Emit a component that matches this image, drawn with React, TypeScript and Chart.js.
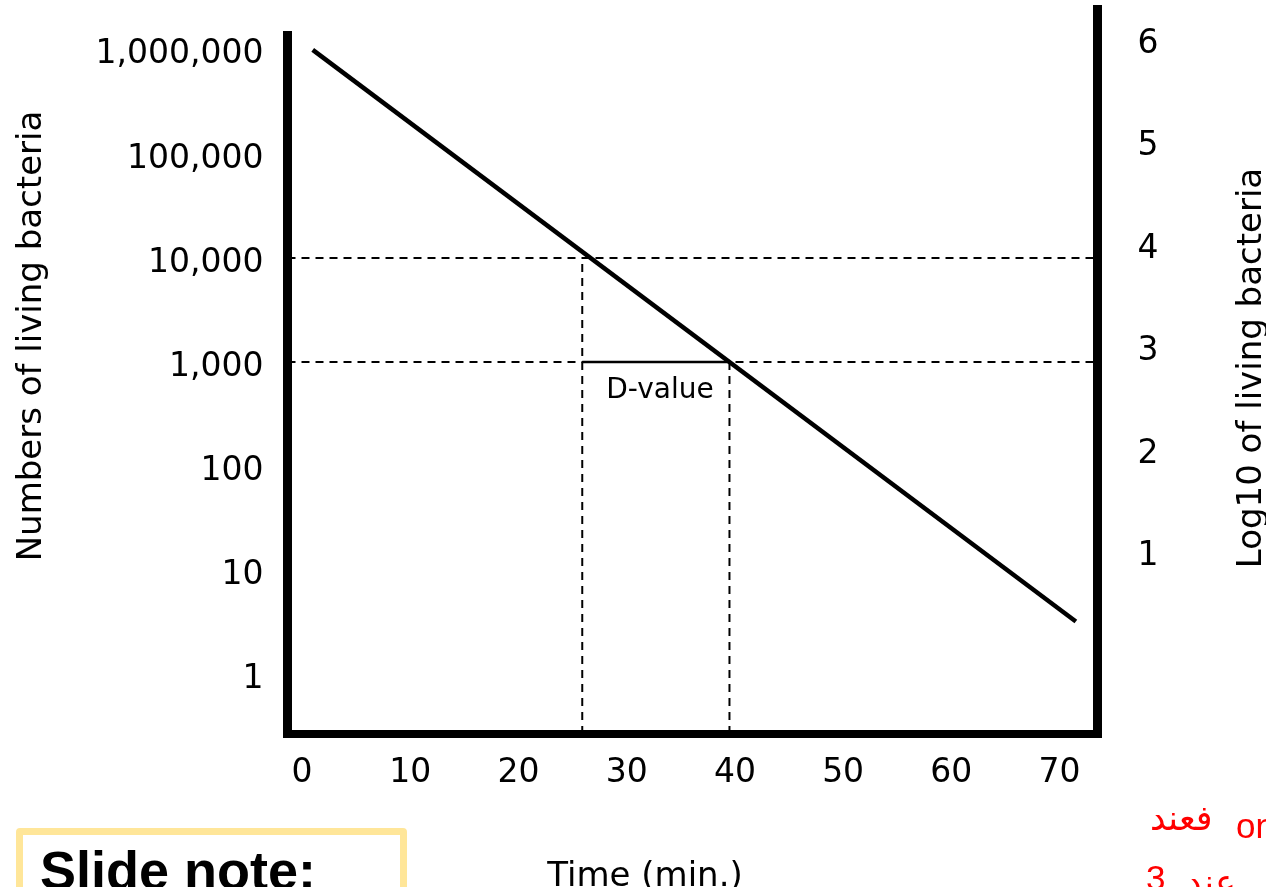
import React, { useEffect, useRef } from "react";
import { Chart, registerables } from "chart.js";

Chart.register(...registerables);

// ---- data ----
const TIME_TICKS = [0, 10, 20, 30, 40, 50, 60, 70];
const COUNT_TICKS = [1, 10, 100, 1000, 10000, 100000, 1000000];
const LOG_TICKS = [1, 2, 3, 4, 5, 6];
const SURVIVOR_TIMES = [1, 71.5];
const SURVIVOR_COUNTS = [1000000, 3.2];
const REFERENCE_LEVELS = [10000, 1000];
const D_VALUE_TIMES = [25.9, 39.5];
const X_RANGE = [-1.33, 73.5];
const COUNT_RANGE = [0.265, 1.52e6];
const LOG_RANGE = [-0.77, 6.09];

const TICK_FONT = { family: '"DejaVu Sans"', size: 33 };

const zeroPad = (s: any) => {
  s.paddingTop = 0;
  s.paddingBottom = 0;
  s.paddingLeft = 0;
  s.paddingRight = 0;
};

const decor = {
  id: "decor",
  afterDatasetsDraw(chart: any) {
    const { ctx, chartArea: ca } = chart;
    ctx.save();
    ctx.fillStyle = "#000";
    ctx.fillRect(ca.left - 4.5, ca.top, 9, ca.bottom + 4 - ca.top);
    ctx.fillRect(ca.left - 4.5, ca.bottom - 4, ca.right + 4.5 - (ca.left - 4.5), 8);
    ctx.fillRect(ca.right - 4.5, ca.top - 26, 9, ca.bottom + 4 - (ca.top - 26));
    ctx.restore();
  },
  afterDraw(chart: any) {
    const { ctx } = chart;
    const xs = chart.scales.x;
    const ys = chart.scales.y;
    ctx.save();
    ctx.fillStyle = "#000";
    ctx.font = '34px "DejaVu Sans"';
    ctx.textBaseline = "alphabetic";
    ctx.textAlign = "center";
    // left title
    ctx.save();
    ctx.translate(41, 336);
    ctx.rotate(-Math.PI / 2);
    ctx.fillText("Numbers of living bacteria", 0, 0);
    ctx.restore();
    // right title
    ctx.save();
    ctx.translate(1261, 368);
    ctx.rotate(-Math.PI / 2);
    ctx.fillText("Log10 of living bacteria", 0, 0);
    ctx.restore();
    // x title
    ctx.fillText("Time (min.)", 645, 886);
    // D-value label
    ctx.font = '28px "DejaVu Sans"';
    ctx.textAlign = "left";
    ctx.fillText(
      "D-value",
      xs.getPixelForValue(D_VALUE_TIMES[0]) + 24,
      ys.getPixelForValue(REFERENCE_LEVELS[1]) + 36
    );
    ctx.restore();
  },
};

export default function App() {
  const ref = useRef<HTMLCanvasElement | null>(null);

  useEffect(() => {
    if (!ref.current) return;
    const dash = [8, 6];
    const base = {
      borderColor: "#000",
      pointRadius: 0,
      fill: false,
      tension: 0,
    };
    const chart = new Chart(ref.current, {
      type: "line",
      data: {
        datasets: [
          {
            ...base,
            label: "survivors",
            data: SURVIVOR_TIMES.map((t, i) => ({ x: t, y: SURVIVOR_COUNTS[i] })),
            borderWidth: 4.5,
          },
          {
            ...base,
            label: "D-value",
            data: [
              { x: D_VALUE_TIMES[0], y: REFERENCE_LEVELS[1] },
              { x: D_VALUE_TIMES[1], y: REFERENCE_LEVELS[1] },
            ],
            borderWidth: 2.5,
          },
          ...REFERENCE_LEVELS.map((lv) => ({
            ...base,
            label: "level " + lv,
            data: [
              { x: X_RANGE[0], y: lv },
              { x: X_RANGE[1], y: lv },
            ],
            borderWidth: 2,
            borderDash: dash,
          })),
          ...D_VALUE_TIMES.map((t, i) => ({
            ...base,
            label: "time " + t,
            data: [
              { x: t, y: COUNT_RANGE[0] },
              { x: t, y: REFERENCE_LEVELS[i] },
            ],
            borderWidth: 2,
            borderDash: dash,
          })),
        ],
      },
      options: {
        animation: false,
        responsive: false,
        devicePixelRatio: 1,
        layout: { padding: { top: 31, left: 0, right: 0, bottom: 0 } },
        plugins: { legend: { display: false }, tooltip: { enabled: false } },
        scales: {
          x: {
            type: "linear",
            min: X_RANGE[0],
            max: X_RANGE[1],
            afterBuildTicks: (s: any) => {
              s.ticks = TIME_TICKS.map((v) => ({ value: v }));
            },
            afterFit: (s: any) => {
              s.height = 887 - 734;
              zeroPad(s);
            },
            ticks: {
              font: TICK_FONT,
              color: "#000",
              padding: 20,
              maxRotation: 0,
              autoSkip: false,
            },
            grid: { display: false, drawTicks: false },
            border: { display: false },
          },
          y: {
            type: "logarithmic",
            position: "left",
            min: COUNT_RANGE[0],
            max: COUNT_RANGE[1],
            afterBuildTicks: (s: any) => {
              s.ticks = COUNT_TICKS.map((v) => ({ value: v }));
            },
            afterFit: (s: any) => {
              s.width = 287.5;
              zeroPad(s);
            },
            ticks: {
              font: TICK_FONT,
              color: "#000",
              padding: 24,
              labelOffset: 5,
              autoSkip: false,
              callback: (v: any) => Number(v).toLocaleString("en-US"),
            },
            grid: { display: false, drawTicks: false },
            border: { display: false },
          },
          y2: {
            type: "linear",
            position: "right",
            min: LOG_RANGE[0],
            max: LOG_RANGE[1],
            afterBuildTicks: (s: any) => {
              s.ticks = LOG_TICKS.map((v) => ({ value: v }));
            },
            afterFit: (s: any) => {
              s.width = 1266 - 1097.5;
              zeroPad(s);
            },
            ticks: {
              font: TICK_FONT,
              color: "#000",
              padding: 40,
              labelOffset: 4,
              autoSkip: false,
            },
            grid: { display: false, drawTicks: false },
            border: { display: false },
          },
        },
      } as any,
      plugins: [decor],
    });
    return () => chart.destroy();
  }, []);

  return (
    <div
      style={{
        position: "fixed",
        left: 0,
        top: 0,
        width: 1266,
        height: 887,
        overflow: "hidden",
        background: "#fff",
      }}
    >
      <canvas
        ref={ref}
        width={1266}
        height={887}
        style={{ position: "absolute", left: 0, top: 0, width: 1266, height: 887 }}
      />
      <div
        style={{
          position: "absolute",
          left: 16,
          top: 828,
          width: 377,
          height: 100,
          border: "7px solid #FFE699",
          borderRadius: 4,
          background: "#fff",
        }}
      />
      <div
        style={{
          position: "absolute",
          left: 40,
          top: 843,
          fontFamily: '"Liberation Sans", Arial, sans-serif',
          fontWeight: "bold",
          fontSize: 54,
          lineHeight: "54px",
          color: "#000",
          whiteSpace: "nowrap",
        }}
      >
        Slide note:
      </div>
      <div
        style={{
          position: "absolute",
          left: 1150,
          top: 796,
          fontFamily: '"DejaVu Sans", sans-serif',
          fontSize: 35,
          lineHeight: "44px",
          color: "#ff0000",
          whiteSpace: "nowrap",
        }}
      >
        فعند
      </div>
      <div
        style={{
          position: "absolute",
          left: 1236,
          top: 806,
          fontFamily: '"Liberation Sans", Arial, sans-serif',
          fontSize: 35,
          lineHeight: "40px",
          color: "#ff0000",
          whiteSpace: "nowrap",
        }}
      >
        on
      </div>
      <div
        style={{
          position: "absolute",
          left: 1146,
          top: 858,
          fontFamily: '"Liberation Sans", Arial, sans-serif',
          fontSize: 35,
          lineHeight: "40px",
          color: "#ff0000",
          whiteSpace: "nowrap",
        }}
      >
        3
      </div>
      <div
        style={{
          position: "absolute",
          left: 1186,
          top: 860,
          fontFamily: '"DejaVu Sans", sans-serif',
          fontSize: 35,
          lineHeight: "44px",
          color: "#ff0000",
          whiteSpace: "nowrap",
        }}
      >
        عند
      </div>
    </div>
  );
}
